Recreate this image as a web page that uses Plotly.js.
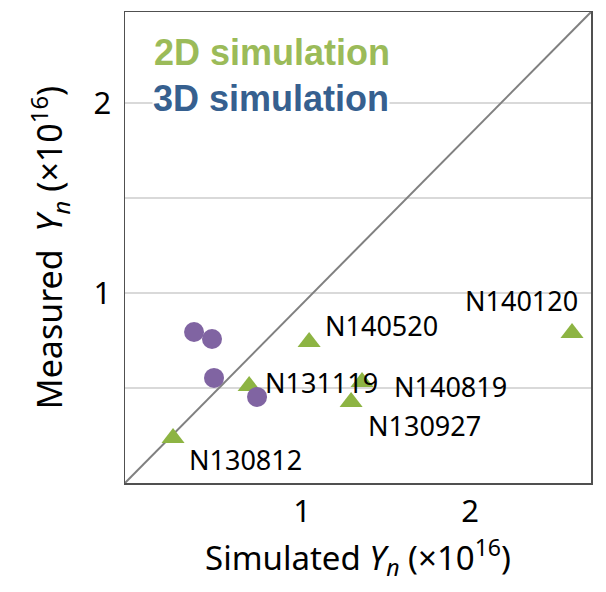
<!DOCTYPE html>
<html>
<head>
<meta charset="utf-8">
<script src="https://cdn.plot.ly/plotly-3.0.1.min.js"></script>
<style>html,body{margin:0;padding:0;background:#fff;}#chart{width:606px;height:592px;}</style>
</head>
<body>
<div id="chart"></div>
<script>
// 2D simulation (triangles)
const shots2D = ["N130812", "N131119", "N140520", "N140819", "N130927", "N140120"];
const sim2D = [0.232, 0.685, 1.042, 1.357, 1.292, 2.607];
const meas2D = [0.237, 0.511, 0.742, 0.532, 0.426, 0.789];
// 3D simulation (circles)
const sim3D = [0.357, 0.464, 0.476, 0.732];
const meas3D = [0.795, 0.758, 0.553, 0.453];
// axes
const xRange = [-0.054, 2.72];
const yRange = [0, 2.479];
const xTickVals = [1, 2];
const xTickText = ["1", "2"];
const yTickVals = [0.5, 1, 1.5, 2];
const yTickText = ["", "1", "", "2"];
// label offsets in pixels (style)
const labelShift = [[72, -22], [72, 3], [72, 17], [88, -5], [73, -23], [-51, 33]];

const traces = [
  {
    x: [xRange[0], xRange[1]], y: [yRange[0], yRange[1]],
    mode: "lines", line: {color: "#808080", width: 2}, hoverinfo: "skip", showlegend: false
  },
  {
    x: sim2D, y: meas2D, mode: "markers", name: "2D simulation",
    marker: {symbol: "triangle-up", size: 20, color: "#8DB443"}, showlegend: false
  },
  {
    x: sim3D, y: meas3D, mode: "markers", name: "3D simulation",
    marker: {symbol: "circle", size: 20, color: "#8064A2"}, showlegend: false
  }
];

const annotations = shots2D.map((s, i) => ({
  x: sim2D[i], y: meas2D[i], xref: "x", yref: "y", text: s, showarrow: false,
  xshift: labelShift[i][0], yshift: labelShift[i][1],
  font: {family: "Noto Sans", size: 27, color: "#000"}
}));
annotations.push({
  xref: "paper", yref: "paper", x: 0.058, y: 0.915, xanchor: "left", yanchor: "middle",
  text: "<b>2D simulation</b>", showarrow: false,
  font: {family: "Liberation Sans", size: 36, color: "#9BBB59"}
});
annotations.push({
  xref: "paper", yref: "paper", x: 0.058, y: 0.817, xanchor: "left", yanchor: "middle",
  text: "<b>3D simulation</b>", showarrow: false, bgcolor: "#ffffff", borderpad: 0,
  font: {family: "Liberation Sans", size: 36, color: "#36608F"}
});

const layout = {
  width: 606, height: 592,
  margin: {l: 125, r: 15, t: 12, b: 109},
  paper_bgcolor: "#fff", plot_bgcolor: "#fff",
  showlegend: false,
  xaxis: {
    range: xRange, tickvals: xTickVals, ticktext: xTickText, showgrid: false, zeroline: false,
    showline: true, mirror: true, linecolor: "#505050", linewidth: 1.5, ticks: "",
    tickfont: {family: "Noto Sans", size: 31, color: "#000"},
    title: {text: "Simulated <i>Y</i><sub><i>n</i></sub> (×10<sup>16</sup>)", standoff: 14,
            font: {family: "Noto Sans", size: 33, color: "#000"}}
  },
  yaxis: {
    range: yRange, tickvals: yTickVals, ticktext: yTickText, showgrid: true,
    gridcolor: "#d9d9d9", gridwidth: 1.5, zeroline: false,
    showline: true, mirror: true, linecolor: "#505050", linewidth: 1.5, ticks: "",
    ticklabelstandoff: 6,
    tickfont: {family: "Noto Sans", size: 31, color: "#000"},
    title: {text: "Measured  <i>Y</i><sub><i>n</i></sub> (×10<sup>16</sup>)", standoff: 20,
            font: {family: "Noto Sans", size: 34, color: "#000"}}
  },
  annotations: annotations
};

Plotly.newPlot("chart", traces, layout, {displayModeBar: false, staticPlot: true});
</script>
</body>
</html>
